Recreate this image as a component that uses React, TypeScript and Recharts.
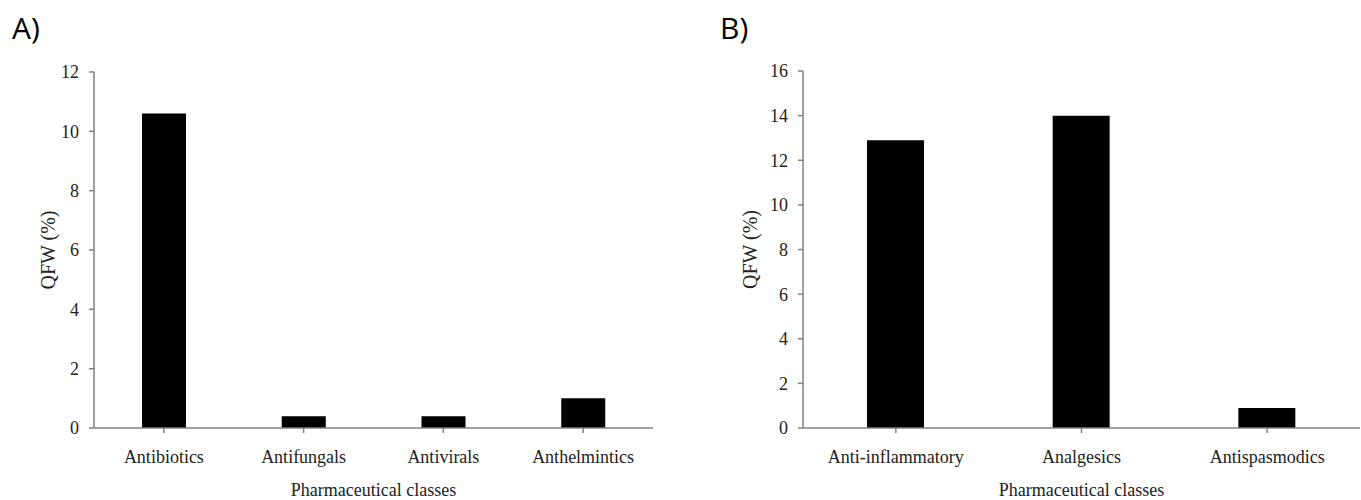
import React from 'react';
import { BarChart, Bar, XAxis, YAxis } from 'recharts';

const categoriesA = ['Antibiotics', 'Antifungals', 'Antivirals', 'Anthelmintics'];
const valuesA = [10.6, 0.4, 0.4, 1.0];
const ticksA = [0, 2, 4, 6, 8, 10, 12];

const categoriesB = ['Anti-inflammatory', 'Analgesics', 'Antispasmodics'];
const valuesB = [12.9, 14.0, 0.9];
const ticksB = [0, 2, 4, 6, 8, 10, 12, 14, 16];

const yLabelText = 'QFW (%)';
const xLabelText = 'Pharmaceutical classes';

const serif = '"Liberation Serif", "Times New Roman", serif';
const axisColor = '#808080';
const textColor = '#222';

const dataA = categoriesA.map((name, i) => ({ name, value: valuesA[i] }));
const dataB = categoriesB.map((name, i) => ({ name, value: valuesB[i] }));

const tickStyle = { fill: textColor, fontSize: 18, fontFamily: serif, style: { fontFamily: serif } };

const makeXLabel = (dy: number) => (props: any) => {
  const vb = props.viewBox || {};
  return (
    <text x={vb.x + vb.width / 2} y={vb.y + dy} textAnchor="middle" fontSize={18} fontFamily={serif} style={{ fontFamily: serif }} fill={textColor}>
      {xLabelText}
    </text>
  );
};

const makeYLabel = (dx: number) => (props: any) => {
  const vb = props.viewBox || {};
  const x = vb.x + dx;
  const y = vb.y + vb.height / 2;
  return (
    <text x={x} y={y} transform={`rotate(-90, ${x}, ${y})`} textAnchor="middle" fontSize={20} fontFamily={serif} style={{ fontFamily: serif }} fill={textColor}>
      {yLabelText}
    </text>
  );
};

interface PanelProps {
  data: { name: string; value: number }[];
  ticks: number[];
  width: number;
  left: number;
  margin: { top: number; right: number; left: number; bottom: number };
  barSize: number;
  yLabelDx: number;
}

const Panel = ({ data, ticks, width, left, margin, barSize, yLabelDx }: PanelProps) => (
  <div style={{ position: 'absolute', left, top: 0 }}>
    <BarChart width={width} height={500} data={data} margin={margin} style={{ fontFamily: serif }}>
      <XAxis
        dataKey="name"
        stroke={axisColor}
        strokeWidth={1.5}
        tickSize={5}
        tickMargin={17}
        tick={tickStyle as any}
        interval={0}
        label={{ content: makeXLabel(68) } as any}
      />
      <YAxis
        domain={[ticks[0], ticks[ticks.length - 1]]}
        ticks={ticks}
        interval={0}
        stroke={axisColor}
        strokeWidth={1.5}
        tickSize={5}
        tickMargin={10}
        tick={tickStyle as any}
        label={{ content: makeYLabel(yLabelDx) } as any}
      />
      <Bar dataKey="value" fill="#000" barSize={barSize} isAnimationActive={false} />
    </BarChart>
  </div>
);

export default function App() {
  return (
    <div style={{ position: 'absolute', left: 0, top: 0, width: 1361, height: 500, background: '#fff', overflow: 'hidden', fontFamily: serif }}>
      <Panel
        data={dataA}
        ticks={ticksA}
        width={680}
        left={0}
        margin={{ top: 72, right: 27, left: 34, bottom: 42 }}
        barSize={44}
        yLabelDx={21}
      />
      <Panel
        data={dataB}
        ticks={ticksB}
        width={681}
        left={680}
        margin={{ top: 71, right: 1, left: 63, bottom: 42 }}
        barSize={57}
        yLabelDx={14}
      />
      <svg width={1361} height={500} style={{ position: 'absolute', left: 0, top: 0, pointerEvents: 'none' }}>
        <text x={12} y={39} fontSize={30} fontFamily='"Open Sans", sans-serif' fill="#000">A)</text>
        <text x={720} y={39} fontSize={30} fontFamily='"Open Sans", sans-serif' fill="#000">B)</text>
      </svg>
    </div>
  );
}
